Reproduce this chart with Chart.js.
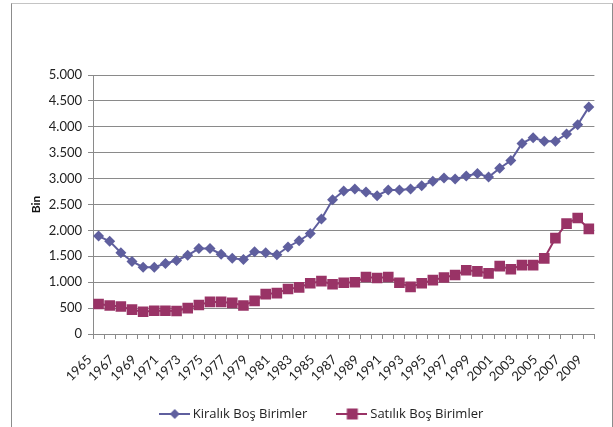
<!DOCTYPE html>
<html>
<head>
<meta charset="utf-8">
<script src="https://cdn.jsdelivr.net/npm/chart.js@4.4.1/dist/chart.umd.min.js"></script>
<style>
  body { margin: 0; background: #fff; }
  #wrap { position: relative; width: 613px; height: 427px; overflow: hidden; }
  #frame { position: absolute; left: 11px; top: 3px; width: 600px; height: 440px;
           border: 1px solid #8c8c8c; border-top-color: #c4c4c4; }
  canvas { position: absolute; left: 0; top: 0; }
</style>
</head>
<body>
<div id="wrap">
  <div id="frame"></div>
  <canvas id="vacancyChart" width="613" height="427"></canvas>
</div>
<script>
// yearly vacant housing units, thousands
const years = ['1965', '1966', '1967', '1968', '1969', '1970', '1971', '1972', '1973', '1974',
  '1975', '1976', '1977', '1978', '1979', '1980', '1981', '1982', '1983', '1984',
  '1985', '1986', '1987', '1988', '1989', '1990', '1991', '1992', '1993', '1994',
  '1995', '1996', '1997', '1998', '1999', '2000', '2001', '2002', '2003', '2004',
  '2005', '2006', '2007', '2008', '2009'];

const kiralik = [1890, 1790, 1570, 1400, 1290, 1290, 1360, 1420, 1520, 1650,
  1650, 1540, 1460, 1440, 1590, 1570, 1530, 1680, 1800, 1940,
  2220, 2590, 2760, 2800, 2740, 2670, 2780, 2780, 2800, 2860,
  2950, 3010, 2990, 3050, 3100, 3030, 3200, 3350, 3680, 3790,
  3720, 3720, 3860, 4040, 4380];

const satilik = [580, 550, 530, 470, 430, 450, 450, 445, 500, 560,
  620, 620, 600, 550, 640, 770, 790, 870, 900, 980,
  1020, 960, 990, 1000, 1100, 1080, 1100, 990, 910, 980,
  1040, 1090, 1140, 1230, 1210, 1170, 1310, 1250, 1330, 1330,
  1460, 1850, 2130, 2240, 2030];

const seriesNames = ['Kiralık Boş Birimler', 'Satılık Boş Birimler'];

const KIRA_COLOR = '#5f5f9e';
const SATIS_COLOR = '#993366';
const GRID_COLOR = '#8a8a8a';
const FONT = 'Lato';

// dotted thousands like 1.500
function fmtThousands(v) {
  return String(v).replace(/\B(?=(\d{3})+(?!\d))/g, '.');
}

// small line + marker swatch for the legend
function legendMarker(color, shape) {
  const c = document.createElement('canvas');
  c.width = 31;
  c.height = 14;
  const g = c.getContext('2d');
  g.strokeStyle = color;
  g.lineWidth = 2;
  g.beginPath();
  g.moveTo(0, 7);
  g.lineTo(31, 7);
  g.stroke();
  g.fillStyle = color;
  if (shape === 'diamond') {
    g.beginPath();
    g.moveTo(16, 2);
    g.lineTo(21, 7);
    g.lineTo(16, 12);
    g.lineTo(11, 7);
    g.closePath();
    g.fill();
  } else {
    g.fillRect(10.5, 1.5, 11, 11);
  }
  return c;
}

const markers = [legendMarker(KIRA_COLOR, 'diamond'), legendMarker(SATIS_COLOR, 'square')];

// legend row under the axis: swatch, then name, items centred as a group
const lineLegend = {
  id: 'lineLegend',
  afterDraw(chart) {
    const ctx = chart.ctx;
    const opts = chart.options.plugins.lineLegend;
    ctx.save();
    ctx.font = opts.font;
    ctx.fillStyle = opts.color;
    ctx.textBaseline = 'middle';
    const widths = chart.data.datasets.map((ds, i) =>
      markers[i].width + opts.textGap + ctx.measureText(ds.label).width);
    const total = widths.reduce((a, b) => a + b, 0) + opts.itemGap * (widths.length - 1);
    let x = opts.centerX - total / 2;
    chart.data.datasets.forEach((ds, i) => {
      const m = markers[i];
      ctx.drawImage(m, x, opts.y - m.height / 2);
      ctx.fillText(ds.label, x + m.width + opts.textGap, opts.y);
      x += widths[i] + opts.itemGap;
    });
    ctx.restore();
  }
};

new Chart('vacancyChart', {
  type: 'line',
  data: {
    labels: years,
    datasets: [{
      label: seriesNames[0],
      data: kiralik,
      borderColor: KIRA_COLOR,
      backgroundColor: KIRA_COLOR,
      borderWidth: 2,
      pointStyle: 'rectRot',
      pointRadius: 5.5,
      pointBorderWidth: 0,
      tension: 0
    }, {
      label: seriesNames[1],
      data: satilik,
      borderColor: SATIS_COLOR,
      backgroundColor: SATIS_COLOR,
      borderWidth: 2,
      pointStyle: 'rect',
      pointRadius: 7.5,
      pointBorderWidth: 0,
      tension: 0
    }]
  },
  plugins: [lineLegend],
  options: {
    responsive: false,
    animation: false,
    layout: { padding: { top: 75, right: 12, bottom: 32, left: 0 } },
    plugins: {
      tooltip: { enabled: false },
      legend: { display: false },
      lineLegend: {
        font: '13px "Open Sans"',
        color: '#222',
        centerX: 321,
        y: 414,
        textGap: 3,
        itemGap: 29
      }
    },
    scales: {
      x: {
        offset: true,
        afterFit: scale => { scale.height = 61; },
        border: { color: GRID_COLOR, width: 1 },
        grid: { offset: true, drawOnChartArea: false, drawTicks: true, tickLength: 5, color: GRID_COLOR },
        ticks: {
          autoSkip: false,
          maxRotation: 45,
          minRotation: 45,
          padding: 13,
          labelOffset: -9,
          color: '#222',
          font: { family: FONT, size: 13 },
          callback: function (val, idx) {
            return idx % 2 === 0 ? this.getLabelForValue(val) : '';
          }
        }
      },
      y: {
        min: 0,
        max: 5000,
        afterFit: scale => { scale.width = 93; },
        border: { color: GRID_COLOR, width: 1 },
        grid: { color: GRID_COLOR, tickLength: 5 },
        title: {
          display: true,
          text: 'Bin',
          color: '#111',
          font: { family: FONT, size: 12, weight: 'bold' },
          padding: { top: 29 }
        },
        ticks: {
          stepSize: 500,
          padding: 6,
          color: '#222',
          font: { family: FONT, size: 13 },
          callback: v => fmtThousands(v)
        }
      }
    }
  }
});
</script>
</body>
</html>
